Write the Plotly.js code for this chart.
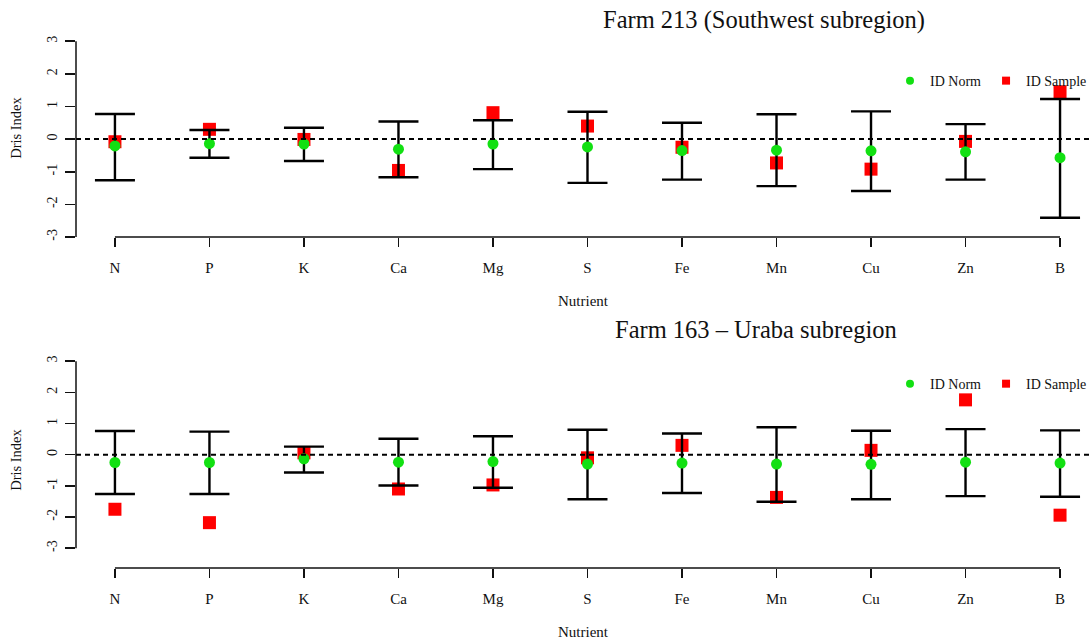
<!DOCTYPE html>
<html>
<head>
<meta charset="utf-8">
<script src="https://cdn.plot.ly/plotly-3.0.1.min.js"></script>
<style>html,body{margin:0;padding:0;background:#fff;}#chart{width:1092px;height:643px;}</style>
</head>
<body>
<div id="chart"></div>
<script>
// ---- data ----
const nutrients = ['N','P','K','Ca','Mg','S','Fe','Mn','Cu','Zn','B'];

const title213 = 'Farm 213 (Southwest subregion)';
const norm213   = [-0.21,-0.14,-0.15,-0.31,-0.15,-0.24,-0.35,-0.34,-0.36,-0.39,-0.57];
const sample213 = [-0.08, 0.30,-0.01,-0.96, 0.81, 0.40,-0.25,-0.73,-0.92,-0.07, 1.45];
const upper213  = [ 0.77, 0.28, 0.35, 0.54, 0.58, 0.84, 0.50, 0.76, 0.85, 0.46, 1.23];
const lower213  = [-1.26,-0.57,-0.67,-1.17,-0.92,-1.34,-1.24,-1.44,-1.59,-1.24,-2.41];

const title163 = 'Farm 163 \u2013 Uraba subregion';
const norm163   = [-0.25,-0.25,-0.13,-0.24,-0.22,-0.30,-0.27,-0.30,-0.31,-0.24,-0.27];
const sample163 = [-1.75,-2.18, 0.06,-1.10,-0.97,-0.10, 0.30,-1.37, 0.14, 1.76,-1.94];
const upper163  = [ 0.76, 0.74, 0.26, 0.51, 0.59, 0.80, 0.68, 0.88, 0.77, 0.82, 0.78];
const lower163  = [-1.26,-1.26,-0.57,-0.99,-1.06,-1.43,-1.23,-1.51,-1.43,-1.33,-1.35];

const yTicks = [-3,-2,-1,0,1,2,3];
const normName = 'ID Norm';
const sampleName = 'ID Sample';
const xTitle = 'Nutrient';
const yTitle = 'Dris Index';

// ---- style ----
const FONT = 'Liberation Serif, Times New Roman, serif';
const GREEN = '#12e012';
const RED = '#ff0000';

function panelTraces(norm, sample, upper, lower, xa, ya, legendId) {
  const errPlus = upper.map((u, i) => u - norm[i]);
  const errMinus = lower.map((l, i) => norm[i] - l);
  return [
    {x: nutrients, y: sample, xaxis: xa, yaxis: ya, type: 'scatter', mode: 'markers',
     marker: {symbol: 'square', size: 13, color: RED}, showlegend: false, hoverinfo: 'skip'},
    {x: nutrients, y: norm, xaxis: xa, yaxis: ya, type: 'scatter', mode: 'markers',
     marker: {size: 1, color: 'rgba(0,0,0,0)'}, showlegend: false, hoverinfo: 'skip',
     error_y: {type: 'data', symmetric: false, array: errPlus, arrayminus: errMinus,
               color: '#000', thickness: 2.4, width: 20}},
    {x: nutrients, y: norm, xaxis: xa, yaxis: ya, type: 'scatter', mode: 'markers',
     marker: {symbol: 'circle', size: 11, color: GREEN}, showlegend: false, hoverinfo: 'skip'},
    // legend entries
    {x: [null], y: [null], xaxis: xa, yaxis: ya, type: 'scatter', mode: 'markers', name: normName,
     marker: {symbol: 'circle', size: 8, color: GREEN}, legend: legendId, legendrank: 1},
    {x: [null], y: [null], xaxis: xa, yaxis: ya, type: 'scatter', mode: 'markers', name: sampleName,
     marker: {symbol: 'square', size: 8, color: RED}, legend: legendId, legendrank: 2}
  ];
}

const data = [].concat(
  panelTraces(norm213, sample213, upper213, lower213, 'x', 'y', 'legend'),
  panelTraces(norm163, sample163, upper163, lower163, 'x2', 'y2', 'legend2')
);

const xRange = [-0.412, nutrients.length - 1 + 0.317];

function xAxis(anchor) {
  return {
    anchor: anchor, domain: [0, 1], type: 'category', range: xRange,
    showgrid: false, zeroline: false, showline: false,
    ticks: 'outside', ticklen: 9, tickwidth: 1.5, tickcolor: '#111',
    ticklabelstandoff: 8,
    tickfont: {family: FONT, size: 15, color: '#111'},
    title: {text: xTitle, font: {family: FONT, size: 15, color: '#111'}, standoff: 20},
    fixedrange: true
  };
}
function yAxis(anchor, domain, range) {
  return {
    anchor: anchor, domain: domain, range: range,
    showgrid: false, zeroline: false, showline: false,
    tickmode: 'array', tickvals: yTicks, ticktext: yTicks.map(String),
    ticks: 'outside', ticklen: 10, tickwidth: 1.5, tickcolor: '#111',
    tickangle: -90, ticklabelstandoff: 2,
    tickfont: {family: FONT, size: 14, color: '#111'},
    title: {text: yTitle, font: {family: FONT, size: 14.5, color: '#111'}, standoff: 20},
    fixedrange: true
  };
}

function panelShapes(xa, ya) {
  const dom = xa + ' domain';
  return [
    {type: 'line', xref: dom, x0: 0, x1: 1, yref: ya, y0: 0, y1: 0,
     line: {color: '#000', width: 2, dash: '5px,4px'}},
    {type: 'line', xref: dom, x0: 0, x1: 0, yref: ya, y0: yTicks[0], y1: yTicks[yTicks.length - 1],
     line: {color: '#111', width: 1.5}},
    {type: 'line', xref: xa, x0: 0, x1: nutrients.length - 1, yref: ya + ' domain', y0: 0, y1: 0,
     line: {color: '#111', width: 1.5}}
  ];
}

const layout = {
  width: 1092, height: 643,
  margin: {l: 76, r: 0, t: 19, b: 75},
  paper_bgcolor: '#fff', plot_bgcolor: 'rgba(0,0,0,0)',
  font: {family: FONT, color: '#111'},
  xaxis: xAxis('y'),
  yaxis: yAxis('x', [0.6029, 1], [-3, 3.681]),
  xaxis2: xAxis('y2'),
  yaxis2: yAxis('x2', [0, 0.3934], [-3.635, 3.295]),
  shapes: [].concat(panelShapes('x', 'y'), panelShapes('x2', 'y2')),
  legend: {orientation: 'h', x: 0.803, xanchor: 'left', y: 0.887, yanchor: 'middle',
           bgcolor: 'rgba(0,0,0,0)', font: {family: FONT, size: 14, color: '#111'},
           itemwidth: 30, traceorder: 'normal'},
  legend2: {orientation: 'h', x: 0.803, xanchor: 'left', y: 0.335, yanchor: 'middle',
           bgcolor: 'rgba(0,0,0,0)', font: {family: FONT, size: 14, color: '#111'},
           itemwidth: 30, traceorder: 'normal'},
  annotations: [
    {text: title213, xref: 'paper', yref: 'paper', x: (602 - 76) / 1016, y: (568 - 20) / 549,
     xanchor: 'left', yanchor: 'middle', showarrow: false, font: {family: FONT, size: 24.5, color: '#111'}},
    {text: title163, xref: 'paper', yref: 'paper', x: (614 - 76) / 1016, y: (568 - 329) / 549,
     xanchor: 'left', yanchor: 'middle', showarrow: false, font: {family: FONT, size: 24.5, color: '#111'}}
  ]
};

Plotly.newPlot('chart', data, layout, {displayModeBar: false, staticPlot: true});
</script>
</body>
</html>
